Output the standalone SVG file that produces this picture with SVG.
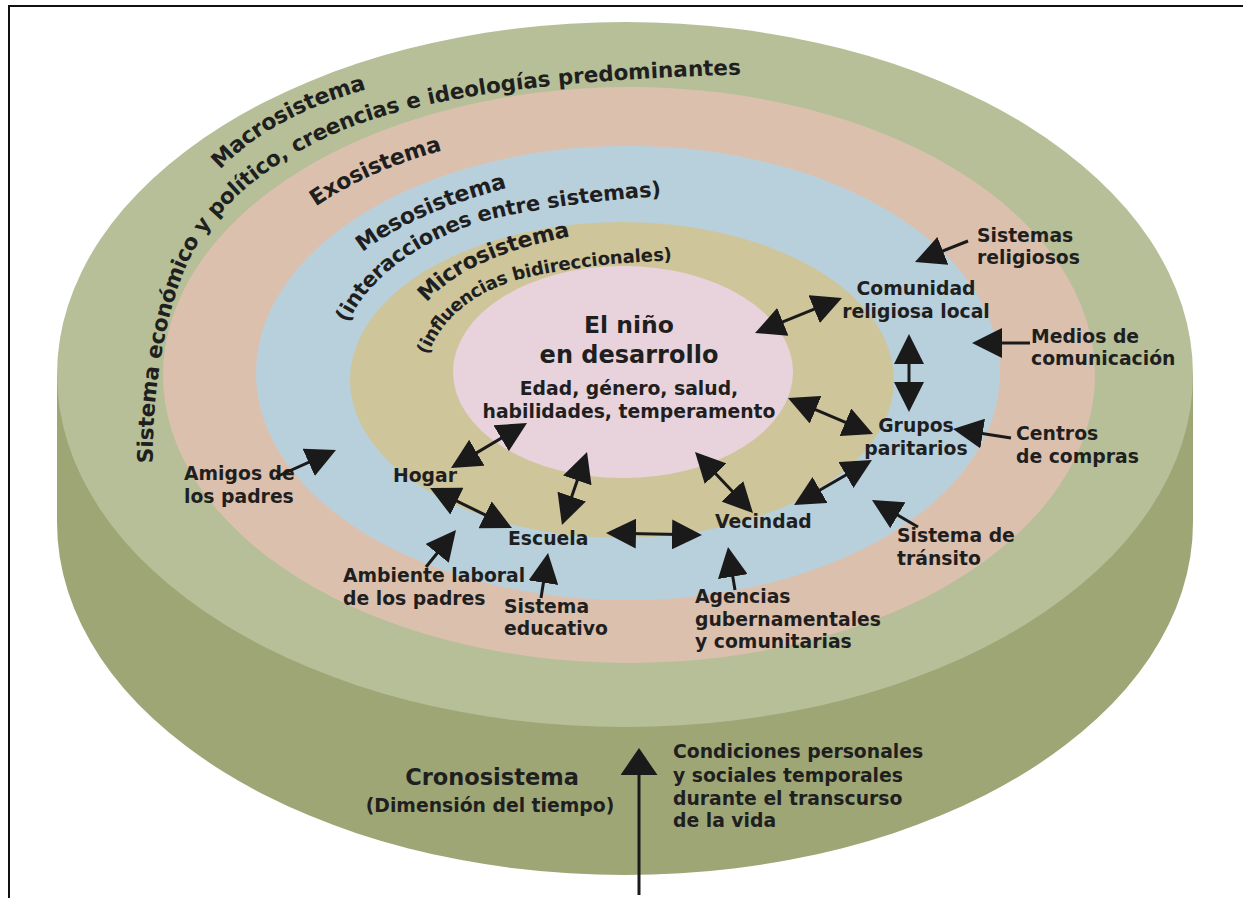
<svg xmlns="http://www.w3.org/2000/svg" width="1243" height="898" viewBox="0 0 1243 898">
<style>
  text { font-family: "DejaVu Sans", "Liberation Sans", sans-serif; font-weight: bold; fill: #1f1f1f; }
  .lbl { font-size: 18.8px; }
  .ring { font-size: 22px; }
  .c { text-anchor: middle; }
  .arc { dominant-baseline: central; }
  .conn line { stroke: #1a1a1a; stroke-width: 3; fill: none; }
  .da { marker-start: url(#ah); marker-end: url(#ah); }
  .sa { marker-end: url(#ah); }
</style>
<defs>
  <marker id="ah" viewBox="0 0 30 30" refX="20" refY="15" markerWidth="30" markerHeight="30" markerUnits="userSpaceOnUse" orient="auto-start-reverse">
    <path d="M0,0 L30,15 L0,30 Z" fill="#1a1a1a"/>
  </marker>
  <marker id="ahb" viewBox="0 0 27 37" refX="17" refY="18.5" markerWidth="27" markerHeight="37" markerUnits="userSpaceOnUse" orient="auto">
    <path d="M0,0 L27,18.5 L0,37 Z" fill="#1a1a1a"/>
  </marker>
  <path id="pMacro1" d="M198,184 C235,135 290,100 385,76"/>
  <path id="pMacro2" d="M145,472 C143,400 155,310 185,250 C220,185 290,140 360,115 C440,88 560,70 770,66"/>
  <path id="pExo" d="M300,208 C340,178 390,155 455,139"/>
  <path id="pMeso1" d="M350,252 C390,220 440,195 530,174"/>
  <path id="pMeso2" d="M340,325 C360,270 430,225 500,210 C560,198 620,190 705,187"/>
  <path id="pMicro1" d="M415,305 C440,270 490,240 605,222"/>
  <path id="pMicro2" d="M418,362 C432,315 470,285 520,272 C580,258 630,254 715,252"/>
</defs>

<!-- frame -->
<g id="frame" stroke="#111" stroke-width="2" fill="none">
  <line x1="8" y1="6" x2="1243" y2="6"/>
  <line x1="9" y1="5" x2="9" y2="898"/>
</g>

<!-- disk -->
<g id="disk">
  <path id="cronosistema-side" d="M57,374.5 L57,522.5 A568,352.5 0 0 0 1193,522.5 L1193,374.5 Z" fill="#9ea676"/>
  <ellipse id="macrosistema-ring" cx="625" cy="374.5" rx="568" ry="352.5" fill="#b6bf97"/>
  <ellipse id="exosistema-ring" cx="629" cy="375" rx="466" ry="288" fill="#dcc0ae"/>
  <ellipse id="mesosistema-ring" cx="628" cy="373" rx="372" ry="227" fill="#b8d0dc"/>
  <ellipse id="microsistema-ring" cx="622" cy="380" rx="272" ry="158" fill="#cec59b"/>
  <ellipse id="nino-core" cx="623" cy="372" rx="170" ry="106" fill="#e8d3dd"/>
</g>

<!-- ring titles -->
<g id="macrosistema-title">
  <text class="ring arc"><textPath href="#pMacro1" startOffset="26">Macrosistema</textPath></text>
  <text class="arc" font-size="21.5"><textPath href="#pMacro2" startOffset="9">Sistema económico y político, creencias e ideologías predominantes</textPath></text>
</g>
<g id="exosistema-title">
  <text class="ring arc"><textPath href="#pExo" startOffset="14">Exosistema</textPath></text>
</g>
<g id="mesosistema-title">
  <text class="ring arc"><textPath href="#pMeso1" startOffset="10">Mesosistema</textPath></text>
  <text class="arc" font-size="21"><textPath href="#pMeso2" startOffset="5">(interacciones entre sistemas)</textPath></text>
</g>
<g id="microsistema-title">
  <text class="ring arc"><textPath href="#pMicro1" startOffset="10">Microsistema</textPath></text>
  <text class="arc" font-size="18"><textPath href="#pMicro2" startOffset="10">(influencias bidireccionales)</textPath></text>
</g>

<!-- center -->
<g id="nino">
  <text class="c" x="629" y="333" font-size="23.5">El niño</text>
  <text class="c" x="629" y="363" font-size="24">en desarrollo</text>
  <text class="c lbl" x="629" y="395">Edad, género, salud,</text>
  <text class="c lbl" x="629" y="418">habilidades, temperamento</text>
</g>

<!-- micro nodes -->
<g id="comunidad"><text class="c lbl" x="916" y="295">Comunidad</text><text class="c lbl" x="916" y="318">religiosa local</text></g>
<g id="grupos"><text class="c lbl" x="916" y="432">Grupos</text><text class="c lbl" x="916" y="455">paritarios</text></g>
<g id="vecindad"><text class="lbl" x="715" y="528">Vecindad</text></g>
<g id="escuela"><text class="lbl" x="508" y="545">Escuela</text></g>
<g id="hogar"><text class="lbl" x="393" y="482">Hogar</text></g>

<!-- exo nodes -->
<g id="sistemas-religiosos"><text class="lbl" x="977" y="242">Sistemas</text><text class="lbl" x="977" y="264">religiosos</text></g>
<g id="medios"><text class="lbl" x="1031" y="343">Medios de</text><text class="lbl" x="1031" y="365">comunicación</text></g>
<g id="centros"><text class="lbl" x="1016" y="440">Centros</text><text class="lbl" x="1016" y="463">de compras</text></g>
<g id="transito"><text class="lbl" x="897" y="542">Sistema de</text><text class="lbl" x="897" y="565">tránsito</text></g>
<g id="agencias"><text class="lbl" x="695" y="603">Agencias</text><text class="lbl" x="695" y="626">gubernamentales</text><text class="lbl" x="695" y="648">y comunitarias</text></g>
<g id="educativo"><text class="lbl" x="504" y="613">Sistema</text><text class="lbl" x="504" y="635">educativo</text></g>
<g id="laboral"><text class="lbl" x="343" y="582">Ambiente laboral</text><text class="lbl" x="343" y="605">de los padres</text></g>
<g id="amigos"><text class="lbl" x="184" y="480">Amigos de</text><text class="lbl" x="184" y="503">los padres</text></g>

<!-- chrono -->
<g id="cronosistema">
  <text class="c" x="492" y="785" font-size="22.5">Cronosistema</text>
  <text class="c lbl" x="490" y="812">(Dimensión del tiempo)</text>
</g>
<g id="condiciones">
  <text class="lbl" x="673" y="758">Condiciones personales</text>
  <text class="lbl" x="673" y="782">y sociales temporales</text>
  <text class="lbl" x="673" y="805">durante el transcurso</text>
  <text class="lbl" x="673" y="827">de la vida</text>
</g>

<!-- connectors -->
<g id="connectors" class="conn">
  <line class="sa" x1="968" y1="241" x2="924.3" y2="258.3"/>
  <line class="da" x1="764.3" y1="329.3" x2="832.7" y2="301.7"/>
  <line class="da" x1="909" y1="344" x2="909" y2="402"/>
  <line class="sa" x1="1030" y1="343" x2="982" y2="343"/>
  <line class="da" x1="797.2" y1="401.9" x2="863.8" y2="430.1"/>
  <line class="sa" x1="1011" y1="438" x2="962.9" y2="430.5"/>
  <line class="da" x1="863.3" y1="465" x2="802.7" y2="500"/>
  <line class="da" x1="701.9" y1="459.2" x2="746.1" y2="505.8"/>
  <line class="sa" x1="918" y1="527" x2="880.6" y2="505.1"/>
  <line class="sa" x1="735" y1="590" x2="729.6" y2="556.9"/>
  <line class="da" x1="616" y1="533.2" x2="692" y2="534.8"/>
  <line class="da" x1="583.8" y1="461.5" x2="565.2" y2="515.5"/>
  <line class="da" x1="459.6" y1="462.9" x2="518.4" y2="428.1"/>
  <line class="da" x1="439" y1="492.4" x2="503" y2="523.6"/>
  <line class="sa" x1="426" y1="567" x2="449.7" y2="537.8"/>
  <line class="sa" x1="541" y1="598" x2="546.5" y2="562.9"/>
  <line class="sa" x1="276" y1="477" x2="326.9" y2="454.1"/>
  <line x1="639" y1="895" x2="639" y2="758" marker-end="url(#ahb)"/>
</g>
</svg>
